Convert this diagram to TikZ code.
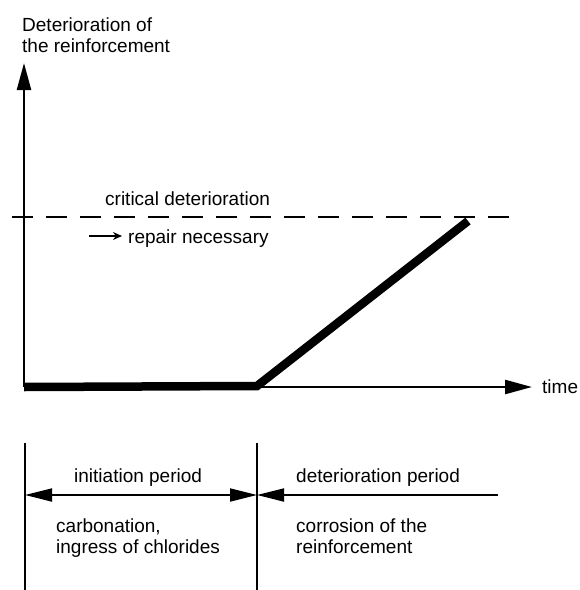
\documentclass[tikz,border=0pt]{standalone}
\usepackage{fontspec}
\setmainfont{Liberation Sans}
\usetikzlibrary{arrows.meta, positioning}

\begin{document}
\begin{tikzpicture}[
        x=1pt, y=-1pt,
        font=\fontsize{19}{21}\selectfont,
        axis/.style={line width=2.4pt, -{Triangle[length=27pt, width=14pt]}},
        curve/.style={line width=8.5pt, line join=miter},
        limit/.style={line width=2.4pt, dash pattern=on 21pt off 13pt},
        divider/.style={line width=1.8pt},
        span/.style={line width=1.8pt, >={Triangle[length=27pt, width=13pt]}},
        label/.style={inner sep=0pt, anchor=base west, align=left}
    ]
    \useasboundingbox (0,0) rectangle (580,590);

    % Axes (multi-line labels sit on their last baseline)
    \coordinate (O) at (24,387);
    \coordinate (ytop) at (24,63);
    \coordinate (xend) at (532,387);
    \node[label] (ylab) at (22,52) {Deterioration of\\the reinforcement};
    \node[label] (time) at (542,393) {time};
    \draw[axis] (O) -- (ytop);
    \draw[axis] (O) -- (xend);

    % Critical deterioration
    \coordinate (critl) at (12,217);
    \coordinate (critr) at (515,217);
    \draw[limit] (critl) -- (critr);
    \node[label] (crit) at (105,205) {critical deterioration};
    \node[label] (repair) at (128,243) {repair necessary};
    \coordinate (rstart) at (89,236);
    \draw[line width=2pt, -{Stealth[length=9pt, width=8pt]}] (rstart) -- ([xshift=-6pt,yshift=7pt]repair.base west);

    % Deterioration curve
    \coordinate (knee) at (257,386);
    \coordinate (peak) at (468,221);
    \draw[curve] (O) -- (knee) -- (peak);

    % Periods
    \coordinate (d1top) at (25,443);
    \coordinate (d1bot) at (25,590);
    \coordinate (d2top) at (257,443);
    \coordinate (d2bot) at (257,590);
    \draw[divider] (d1top) -- (d1bot);
    \draw[divider] (d2top) -- (d2bot);
    \coordinate (a1) at (25,495);
    \coordinate (a2) at (257,495);
    \coordinate (a3) at (498,495);
    \draw[span, <->] (a1) -- (a2);
    \draw[span, ->] (a3) -- (a2);
    \node[label] (init) at (74,482) {initiation period};
    \node[label] (det) at (296,482) {deterioration period};
    \node[label] (carb) at (56,553) {carbonation,\\ingress of chlorides};
    \node[label] (corr) at (296,553) {corrosion of the\\reinforcement};

\end{tikzpicture}
\end{document}
